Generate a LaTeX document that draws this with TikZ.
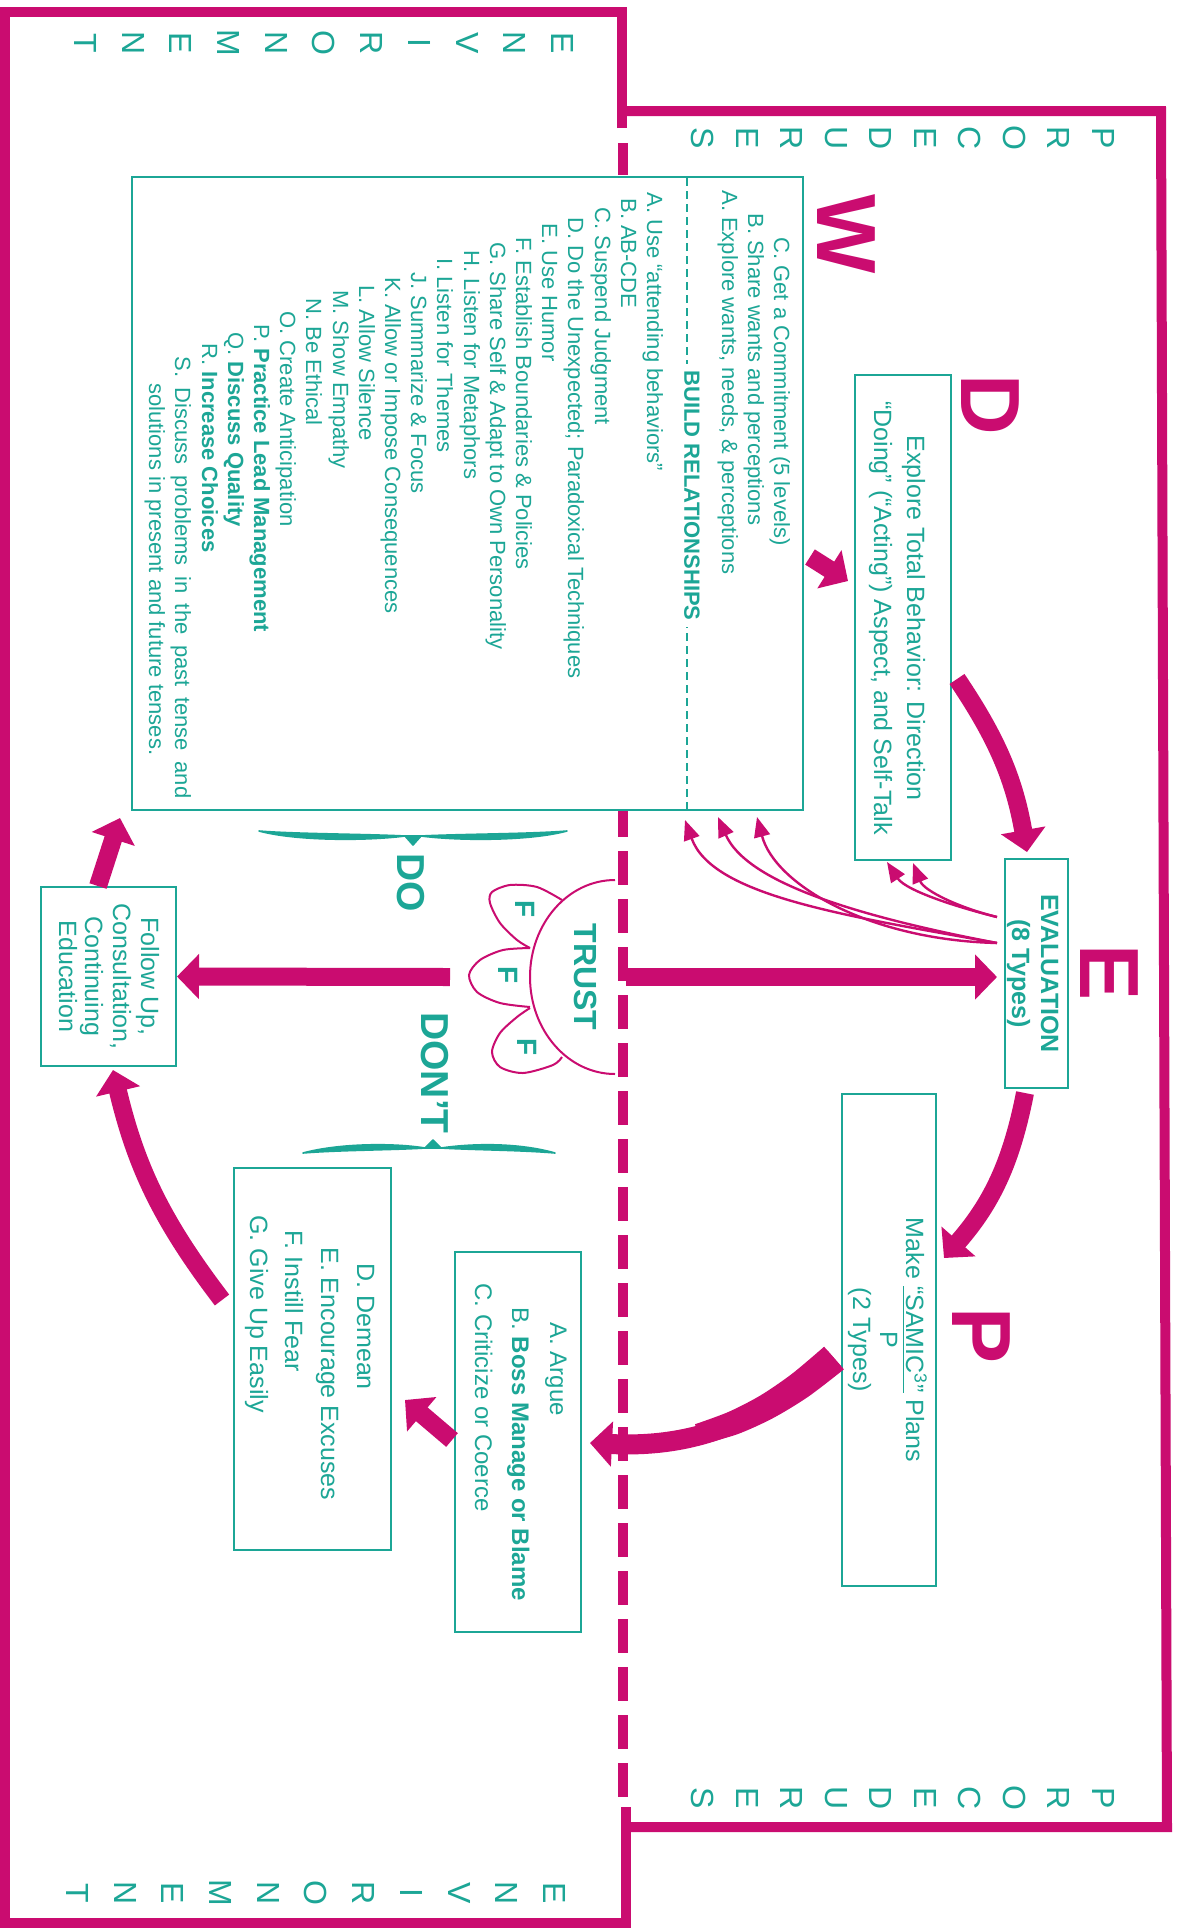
\documentclass[tikz,border=0pt]{standalone}
\usepackage{fontspec}
\setmainfont{Liberation Sans}
\usetikzlibrary{arrows.meta}
\definecolor{tl}{RGB}{28,166,150}
\definecolor{mg}{RGB}{202,12,112}
\begin{document}
\begin{tikzpicture}[x=0.5pt,y=0.5pt,
  magframe/.style={draw=mg,line width=5pt},
  tbox/.style={draw=tl,line width=1pt,fill=white,inner sep=0pt},
  tx/.style={text=tl,inner sep=0pt},
  listf/.style={font=\fontsize{11}{13}\selectfont},
  boxf/.style={font=\fontsize{12.5}{15}\selectfont},
  argf/.style={font=\fontsize{12}{14}\selectfont},
  bigletter/.style={text=mg,inner sep=0pt,font=\fontsize{42}{42}\selectfont\bfseries},
  stackf/.style={text=tl,inner sep=0pt,align=center},
  bigarr/.style={draw=mg,line width=9pt,-{Triangle[length=11pt,width=22pt]}},
  thinarr/.style={draw=mg,line width=1.2pt,-{Triangle[length=10pt,width=8pt]}},
  petal/.style={draw=mg,line width=1pt},
  bracefill/.style={draw=tl,fill=tl,line width=0.8pt,line join=round}
]
\fill[white] (0,0) rectangle (1177,-1928);
\useasboundingbox (0,0) rectangle (1177,-1928);
\begin{scope}[rotate=-90,transform shape]
% boundary between environment and procedures
\draw[mg,line width=5pt] (143,623) -- (175,623);
\draw[mg,line width=5pt,dash pattern=on 17pt off 7pt] (179,623) -- (1797,623);
% frames
\draw[magframe] (128,622) -- (12,622) -- (12,5) -- (1923,5) -- (1923,626) -- (1807,626);
\draw[magframe] (111,618) -- (111,1161) -- (1827,1167) -- (1827,622);
% stacked words
\node[stackf,font=\fontsize{16}{22.25}\selectfont] (procT) at (138,903) {P\\R\\O\\C\\E\\D\\U\\R\\E\\S};
\node[stackf,font=\fontsize{16}{22.25}\selectfont] (procB) at (1798,903) {P\\R\\O\\C\\E\\D\\U\\R\\E\\S};
\node[stackf,font=\fontsize{16}{23.85}\selectfont] (envT) at (43,324) {E\\N\\V\\I\\R\\O\\N\\M\\E\\N\\T};
\node[stackf,font=\fontsize{16}{23.85}\selectfont] (envB) at (1893,316) {E\\N\\V\\I\\R\\O\\N\\M\\E\\N\\T};
% big letters
\node[bigletter] (bigW) at (234,846) {W};
\node[bigletter] (bigD) at (405,990) {D};
\node[bigletter] (bigE) at (973,1109) {E};
\node[bigletter] (bigP) at (1335,981) {P};
% boxes
\node[tbox,minimum width=316.5pt,minimum height=335.5pt] (listbox) at (493.5,467.5) {};
\node[tbox,minimum width=242.5pt,minimum height=48pt] (dbox) at (617.5,903) {};
\node[tbox,minimum width=114.5pt,minimum height=31.5pt] (ebox) at (973.5,1036.5) {};
\node[tbox,minimum width=246pt,minimum height=47pt] (pbox) at (1340,889) {};
\node[tbox,minimum width=190pt,minimum height=63pt] (argbox) at (1442,518) {};
\node[tbox,minimum width=191pt,minimum height=78.5pt] (dembox) at (1359,312.5) {};
\node[tbox,minimum width=89.5pt,minimum height=67.5pt] (folbox) at (976.5,108.5) {};
% list box contents
\draw[tl,line width=1pt,dash pattern=on 4pt off 2.5pt] (178,687) -- (809,687);
\node[tx,font=\fontsize{11}{13}\selectfont\bfseries,fill=white,inner xsep=3pt] (build) at (495.5,692) {BUILD RELATIONSHIPS};
\foreach \s/\c/\t [count=\i] in {237/782/{C. Get a Commitment (5 levels)},
  213/756/{B. Share wants and perceptions},
  190/730/{A. Explore wants, needs, \& perceptions}}
  \node[tx,listf,anchor=base west] (top\i) at (\s,\c-8) {\t};
\foreach \s/\c/\t [count=\i] in {
192/655/{A. Use “attending behaviors”},
198/629/{B. AB-CDE},
207/603/{C. Suspend Judgment},
217/576/{D. Do the Unexpected; Paradoxical Techniques},
223/550/{E. Use Humor},
237/524/{F. Establish Boundaries \& Policies},
242/498/{G. Share Self \& Adapt to Own Personality},
250/472/{H. Listen for Metaphors},
258/445/{I. Listen for Themes},
272/419/{J. Summarize \& Focus},
277/393/{K. Allow or Impose Consequences},
285/367/{L. Allow Silence},
290/341/{M. Show Empathy},
298/314/{N. Be Ethical},
311/288/{O. Create Anticipation},
324/262/{P. \textbf{Practice Lead Management}},
332/236/{Q. \textbf{Discuss Quality}},
343/210/{R. \textbf{Increase Choices}},
356/183/{\makebox[221pt][s]{S. Discuss problems in the past tense and}},
383/157/{solutions in present and future tenses.}}
  \node[tx,listf,anchor=base west] (item\i) at (\s,\c-8) {\t};
% D box
\node[tx,boxf,anchor=base] (d1) at (618,907) {Explore Total Behavior: Direction};
\node[tx,boxf,anchor=base] (d2) at (618,874) {“Doing” (“Acting”) Aspect, and Self-Talk};
% E box
\node[tx,font=\fontsize{12.5}{15}\selectfont\bfseries,anchor=base] (e1) at (973.5,1041) {EVALUATION};
\node[tx,font=\fontsize{12.5}{15}\selectfont\bfseries,anchor=base] (e2) at (973.5,1012) {(8 Types)};
% P box
\node[tx,boxf,anchor=base] (p1) at (1340,906) {Make \underline{“SAMIC\textsuperscript{3}”} Plans};
\node[tx,boxf,anchor=base] (p2) at (1340,880) {P};
\node[tx,boxf,anchor=base] (p3) at (1340,853) {(2 Types)};
% Don't boxes
\node[tx,argf,anchor=base west] (a1) at (1322,550) {A. Argue};
\node[tx,argf,anchor=base west] (a2) at (1307,512) {B. \textbf{Boss Manage or Blame}};
\node[tx,argf,anchor=base west] (a3) at (1283,475) {C. Criticize or Coerce};
\node[tx,boxf,anchor=base west] (dm1) at (1263,357) {D. Demean};
\node[tx,boxf,anchor=base west] (dm2) at (1247,321) {E. Encourage Excuses};
\node[tx,boxf,anchor=base west] (dm3) at (1230,285) {F. Instill Fear};
\node[tx,boxf,anchor=base west] (dm4) at (1215,250) {G. Give Up Easily};
% Follow up box
\node[tx,boxf,anchor=base] (f1) at (976.5,141) {Follow Up,};
\node[tx,boxf,anchor=base] (f2) at (976.5,113) {Consultation,};
\node[tx,boxf,anchor=base] (f3) at (976.5,85) {Continuing};
\node[tx,boxf,anchor=base] (f4) at (976.5,59) {Education};
% trust flower
\draw[petal] (880,615) arc[start angle=180,end angle=360,x radius=97,y radius=85];
\draw[petal] plot[smooth] coordinates {(900,562) (887,537) (885,510) (892,492) (903,490) (923,500) (940,517) (948,530)};
\draw[petal] plot[smooth] coordinates {(948,530) (950,503) (960,480) (975,469) (992,477) (1003,500) (1007,530)};
\draw[petal] plot[smooth] coordinates {(1008,530) (1017,517) (1033,500) (1052,492) (1067,500) (1073,523) (1065,553) (1057,562)};
\node[tx,font=\fontsize{16}{16}\selectfont\bfseries] (trust) at (977,586) {TRUST};
\node[tx,font=\fontsize{14}{14}\selectfont\bfseries] (F1) at (909,525) {F};
\node[tx,font=\fontsize{14}{14}\selectfont\bfseries] (F2) at (975,508) {F};
\node[tx,font=\fontsize{14}{14}\selectfont\bfseries] (F3) at (1047,527) {F};
% do / don't braces
\filldraw[bracefill] (831,567) .. controls (841,530) and (841,460) .. (836,421) -- (845,413) -- (836,405)
  .. controls (841,366) and (841,296) .. (831,259) .. controls (834,296) and (834,366) .. (836,405)
  -- (836,421) .. controls (834,460) and (834,530) .. (831,567) -- cycle;
\filldraw[bracefill] (1153,303) .. controls (1143,340) and (1143,395) .. (1148,425) -- (1140,433) -- (1148,441)
  .. controls (1143,475) and (1143,520) .. (1153,555) .. controls (1150,520) and (1150,475) .. (1148,441)
  -- (1148,425) .. controls (1150,395) and (1150,340) .. (1153,303) -- cycle;
\node[tx,font=\fontsize{19.5}{20}\selectfont\bfseries] (do) at (883,411) {DO};
\node[tx,font=\fontsize{19.5}{20}\selectfont\bfseries] (dont) at (1073,435) {DON’T};
% thin arrows from evaluation
\coordinate (eA) at (943,997);
\coordinate (eB) at (917,997);
\coordinate (t1) at (820,685);
\coordinate (t2) at (817,718);
\coordinate (t3) at (817,757);
\coordinate (t4) at (862,887);
\coordinate (t5) at (863,913);
\draw[thinarr] (eA) .. controls (915,840) and (895,712) .. (t1);
\draw[thinarr] (eA) .. controls (915,850) and (881,746) .. (t2);
\draw[thinarr] (eA) .. controls (940,870) and (885,775) .. (t3);
\draw[thinarr] (eB) .. controls (908,960) and (891,906) .. (t4);
\draw[thinarr] (eB) .. controls (908,960) and (891,924) .. (t5);
% thick arrows
\coordinate (wdA) at (557,810);
\coordinate (wdB) at (581,848);
\draw[bigarr] (wdA) -- (wdB);
\coordinate (deA) at (679,957);
\coordinate (deB) at (852,1027);
\draw[bigarr] (deA) to[bend left=12] (deB);
\coordinate (epA) at (1093,1025);
\coordinate (epB) at (1258,944);
\draw[bigarr] (epA) to[bend left=15] (epB);
\coordinate (paA) at (1358,834);
\coordinate (paB) at (1443,590);
\draw[bigarr,line width=10pt] (paA) .. controls (1424.7,757.9) and (1447.9,691.1) .. (paB);
\fill[mg] plot[smooth] coordinates {(1369.3,843.9) (1396.5,808.5) (1418.0,773.2) (1434.2,737.4) (1444.6,700.2)}
  -- plot[smooth] coordinates {(1424.2,695.1) (1411.9,728.5) (1395.4,760.5) (1373.8,792.0) (1346.7,824.1)} -- cycle;
\coordinate (adA) at (1440,452);
\coordinate (adB) at (1400,405);
\draw[bigarr] (adA) -- (adB);
\coordinate (dfA) at (1300,222);
\coordinate (dfB) at (1070,113);
\draw[bigarr] (dfA) to[bend left=12] (dfB);
\coordinate (flA) at (886,98);
\coordinate (flB) at (818,120);
\draw[bigarr] (flA) -- (flB);
\coordinate (teA) at (977,626);
\coordinate (teB) at (977,997);
\draw[bigarr] (teA) -- (teB);
\coordinate (tfA) at (977,450);
\draw[bigarr] (tfA) -- (folbox.north);
\end{scope}
\end{tikzpicture}
\end{document}
